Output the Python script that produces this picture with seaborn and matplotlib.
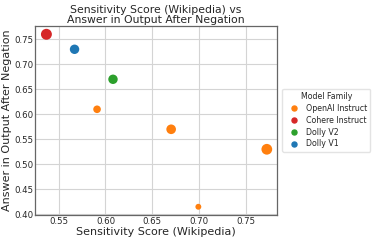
import numpy as np
import seaborn as sns
import pandas as pd
from matplotlib import pyplot as plt
from matplotlib.lines import Line2D

# values
families = ['Cohere Instruct', 'Dolly V1', 'Dolly V2',
            'OpenAI Instruct', 'OpenAI Instruct', 'OpenAI Instruct', 'OpenAI Instruct']
sensitivity = [0.537, 0.567, 0.608, 0.591, 0.670, 0.772, 0.699]
answer_after_neg = [0.760, 0.730, 0.670, 0.610, 0.570, 0.530, 0.415]
model_size = [52, 12, 12, 6, 13, 175, 1]

family_order = ['OpenAI Instruct', 'Cohere Instruct', 'Dolly V2', 'Dolly V1']
colors = ['#ff7f0e', '#d62728', '#2ca02c', '#1f77b4']

df = pd.DataFrame({'family': families, 'x': sensitivity,
                   'y': answer_after_neg, 'size': model_size})

sns.set_theme(style='whitegrid')
plt.rcParams['font.family'] = ['DejaVu Sans']

fig = plt.figure(figsize=(3.74, 2.41), dpi=100)
ax = fig.add_axes([0.094, 0.108, 0.647, 0.785])

pal = dict(zip(family_order, colors))
# marker areas chosen per point to match the picture
area = {52: 62, 12: 46, 6: 30, 13: 48, 175: 60, 1: 18}
sns.scatterplot(data=df, x='x', y='y', hue='family', hue_order=family_order,
                palette=pal, size='size', sizes=area, legend=False,
                edgecolor='none', ax=ax)

ax.set_xlim(0.525, 0.783)
ax.set_ylim(0.3986, 0.777)
ax.set_xticks([0.55, 0.60, 0.65, 0.70, 0.75])
ax.set_yticks([0.40, 0.45, 0.50, 0.55, 0.60, 0.65, 0.70, 0.75])
ax.tick_params(labelsize=6.2, pad=1.5, length=0)
ax.set_xlabel('Sensitivity Score (Wikipedia)', fontsize=8, labelpad=1)
ax.set_ylabel('Answer in Output After Negation', fontsize=8, labelpad=1.5)
ax.set_title('Sensitivity Score (Wikipedia) vs\nAnswer in Output After Negation',
             fontsize=7.8, pad=2, linespacing=1.0)
for s in ax.spines.values():
    s.set_edgecolor('#666666')
    s.set_linewidth(0.9)
ax.grid(color='#d4d4d4', linewidth=0.8)

handles = [Line2D([], [], marker='o', linestyle='', color=c, markersize=3.6)
           for c in colors]
ax.legend(handles, family_order, title='Model Family', loc='center left',
          bbox_to_anchor=(1.005, 0.5), fontsize=5.7, title_fontsize=5.7,
          frameon=True, edgecolor='#dddddd', handletextpad=0.5,
          borderpad=0.45, labelspacing=0.35)

plt.savefig('out.png', dpi=100)
